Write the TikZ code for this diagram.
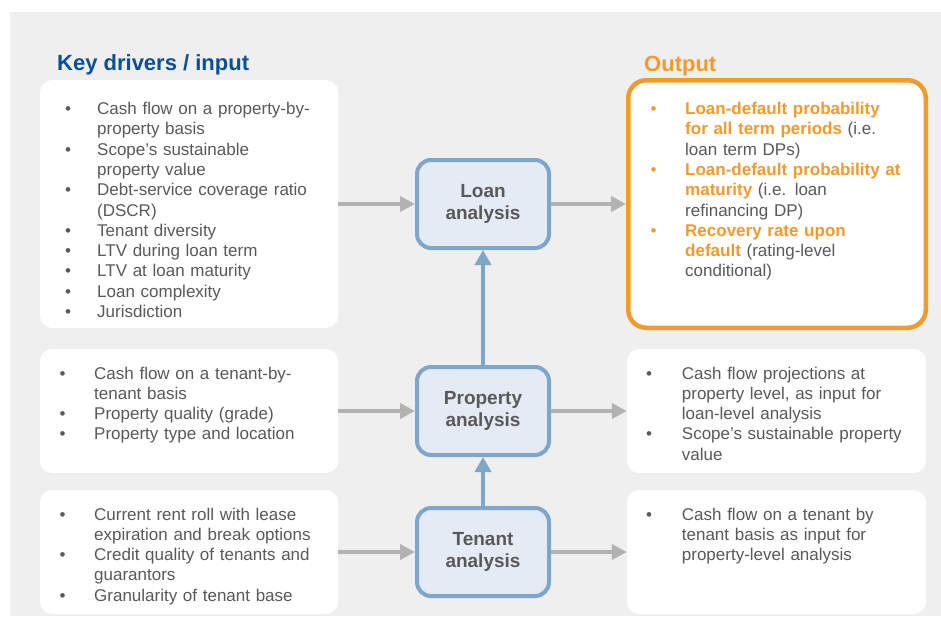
\documentclass[tikz,border=0pt]{standalone}
\usepackage{fontspec}
\setmainfont{Liberation Sans}
\usetikzlibrary{arrows.meta}
\definecolor{bgc}{HTML}{EFEFEF}
\definecolor{txt}{HTML}{595959}
\definecolor{ttl}{HTML}{0B4F96}
\definecolor{org}{HTML}{F39A2C}
\definecolor{bbord}{HTML}{7EA6CA}
\definecolor{bfill}{HTML}{E4EBF5}
\definecolor{garr}{HTML}{B2B2B2}
\newcommand\bitem[3][txt]{\par\noindent\leftskip=#2pt\hskip-#2pt\makebox[#2pt][l]{\textcolor{#1}{\textbullet}}#3\par}
\newcommand\fstrut{\rule{0pt}{14pt}}
\newcommand\ob[1]{\textcolor{org}{\bfseries #1}}
\tikzset{
  wbox/.style={fill=white, rounded corners=12pt, inner sep=0pt, minimum width=298pt},
  abox/.style={draw=bbord, fill=bfill, line width=4pt, rounded corners=14pt,
    minimum width=132pt, minimum height=88pt, align=center, text=txt,
    font=\fontsize{19}{22}\selectfont\bfseries},
  lst/.style={anchor=north west, inner sep=0pt, text width=285pt,
    text=txt, font=\fontsize{17}{20.3}\selectfont\raggedright},
  ttlnode/.style={anchor=base west, inner sep=0pt, font=\fontsize{22}{25}\selectfont\bfseries},
  garrow/.style={draw=garr, line width=4.5pt, -{Triangle[length=15pt,width=15pt]}},
  barrow/.style={draw=bbord, line width=4.5pt, -{Triangle[length=15pt,width=16pt]}}
}
\begin{document}
\begin{tikzpicture}[x=1pt,y=-1pt]
\useasboundingbox (0,0) rectangle (941,616);
\fill[white] (0,0) rectangle (941,616);
\fill[bgc] (10,12) rectangle (941,616);

% titles
\node[ttlnode, text=ttl] (tin) at (57,70.5) {Key drivers / input};
\node[ttlnode, text=org] (tout) at (644,71) {Output};

% white boxes
\node[wbox, minimum height=248pt] (in1) at (189,204) {};
\node[wbox, minimum height=124pt] (in2) at (189,411) {};
\node[wbox, minimum height=124pt] (in3) at (189,552) {};
\node[wbox, minimum width=299pt, minimum height=124pt] (out2) at (776.5,411) {};
\node[wbox, minimum width=299pt, minimum height=124pt] (out3) at (776.5,552) {};
\node[draw=org, fill=white, line width=4.5pt, rounded corners=18pt, inner sep=0pt,
  minimum width=297.5pt, minimum height=247.5pt] (out1) at (777,204) {};

% analysis boxes
\node[abox] (loan) at (483,204) {Loan\\analysis};
\node[abox] (prop) at (483,411) {Property\\analysis};
\node[abox] (ten) at (483,552) {Tenant\\analysis};

% lists
\node[lst] (t1) at (65,94) {%
\bitem{32}{\fstrut Cash flow on a property-by-\\property basis}
\bitem{32}{Scope’s sustainable\\property value}
\bitem{32}{Debt-service coverage ratio\\(DSCR)}
\bitem{32}{Tenant diversity}
\bitem{32}{LTV during loan term}
\bitem{32}{LTV at loan maturity}
\bitem{32}{Loan complexity}
\bitem{32}{Jurisdiction}};

\node[lst] (t2) at (59.3,358.5) {%
\bitem{34.7}{\fstrut Cash flow on a tenant-by-\\tenant basis}
\bitem{34.7}{Property quality (grade)}
\bitem{34.7}{Property type and location}};

\node[lst] (t3) at (59.3,499.5) {%
\bitem{34.7}{\fstrut Current rent roll with lease\\expiration and break options}
\bitem{34.7}{Credit quality of tenants and\\guarantors}
\bitem{34.7}{Granularity of tenant base}};

\node[lst] (t4) at (650.3,94) {%
\bitem[org]{34.7}{\fstrut\ob{Loan-default probability\\for all term periods} (i.e.\\loan term DPs)}
\bitem[org]{34.7}{\ob{Loan-default probability at\\maturity} (i.e. loan\\refinancing DP)}
\bitem[org]{34.7}{\ob{Recovery rate upon\\default} (rating-level\\conditional)}};

\node[lst] (t5) at (646,358.5) {%
\bitem{35.7}{\fstrut Cash flow projections at\\property level, as input for\\loan-level analysis}
\bitem{35.7}{Scope’s sustainable property\\value}};

\node[lst] (t6) at (646,499.5) {%
\bitem{35.7}{\fstrut Cash flow on a tenant by\\tenant basis as input for\\property-level analysis}};

% connectors
\draw[garrow] (in1.east) -- (loan.west);
\draw[garrow] (in2.east) -- (prop.west);
\draw[garrow] (in3.east) -- (ten.west);
\draw[garrow] (loan.east) -- (out1.west);
\draw[garrow] (prop.east) -- (out2.west);
\draw[garrow] (ten.east) -- (out3.west);
\draw[barrow] (prop.north) -- (loan.south);
\draw[barrow] (ten.north) -- (prop.south);
\end{tikzpicture}
\end{document}
